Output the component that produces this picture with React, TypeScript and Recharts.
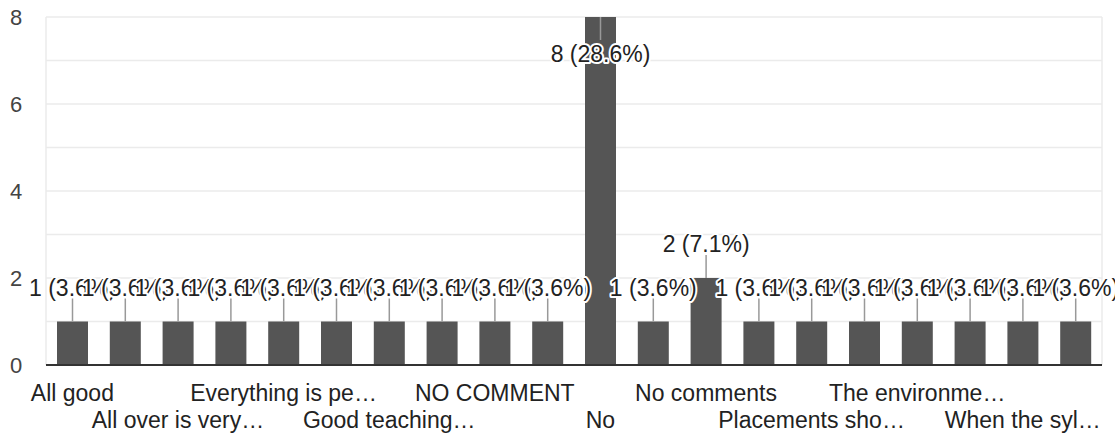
import React from "react";
import {
  BarChart,
  Bar,
  XAxis,
  YAxis,
  CartesianGrid,
  LabelList,
} from "recharts";

// categories (answers), sorted as in the form summary
const CATEGORIES = [
  "All good",
  "All is well",
  "All over is very…",
  "Better infrastructure",
  "Everything is pe…",
  "Good",
  "Good teaching…",
  "Improve labs",
  "NO COMMENT",
  "NOTHING",
  "No",
  "No comment",
  "No comments",
  "Nothing",
  "Placements sho…",
  "Satisfied",
  "The environme…",
  "Very good",
  "When the syl…",
  "Wifi",
];

const COUNTS = [1, 1, 1, 1, 1, 1, 1, 1, 1, 1, 8, 1, 2, 1, 1, 1, 1, 1, 1, 1];

const Y_TICKS = [0, 1, 2, 3, 4, 5, 6, 7, 8];
const Y_LABELS = [0, 2, 4, 6, 8];

const TOTAL = COUNTS.reduce((a, b) => a + b, 0);

const data = CATEGORIES.map((name, i) => ({ name, count: COUNTS[i] }));

const FONT = "'Liberation Sans', Arial, sans-serif";

function YTick({ y, payload }: any) {
  if (!Y_LABELS.includes(payload.value)) return null;
  return (
    <text x={10} y={y} dy={8} fontSize={22} fill="#444" fontFamily={FONT}>
      {payload.value}
    </text>
  );
}

// every second answer is labelled, on two staggered rows
function XTick({ x, y, payload, index }: any) {
  const i = payload?.index ?? index;
  if (i % 2 !== 0) return null;
  const row = (i / 2) % 2;
  return (
    <text
      x={x}
      y={y + (row === 0 ? 36 : 63)}
      textAnchor="middle"
      fontSize={23}
      fill="#222"
      fontFamily={FONT}
    >
      {payload.value}
    </text>
  );
}

// annotation with a small stem, like the forms summary chart
function Annotation({ x, y, width, value }: any) {
  const cx = x + width / 2;
  const text = `${value} (${((value / TOTAL) * 100).toFixed(1)}%)`;
  const above = y - 50 > 17;
  const stemEnd = above ? y - 23 : y + 23;
  const baseY = above ? y - 26 : y + 45;
  return (
    <g>
      <line x1={cx} y1={y} x2={cx} y2={stemEnd} stroke="#999" strokeWidth={1.5} />
      <text
        x={cx}
        y={baseY}
        textAnchor="middle"
        fontSize={23}
        fill="#222"
        stroke="#fff"
        strokeWidth={4}
        strokeLinejoin="round"
        paintOrder="stroke"
        fontFamily={FONT}
      >
        {text}
      </text>
    </g>
  );
}

export default function App() {
  return (
    <div style={{ position: "absolute", left: 0, top: 0, background: "#fff" }}>
      <BarChart
        width={1115}
        height={439}
        data={data}
        margin={{ top: 17, right: 13, bottom: 0, left: 0 }}
        barSize={31}
      >
        <CartesianGrid
          stroke="#ebebeb"
          strokeWidth={1.5}
          verticalCoordinatesGenerator={({ offset }: any) => [
            offset.left,
            offset.left + offset.width,
          ]}
        />
        <YAxis
          width={46}
          domain={[0, 8]}
          ticks={Y_TICKS}
          axisLine={false}
          tickLine={false}
          tick={<YTick />}
          interval={0}
        />
        <XAxis
          dataKey="name"
          height={74}
          interval={0}
          tickLine={false}
          tickSize={0}
          tickMargin={0}
          axisLine={{ stroke: "#333", strokeWidth: 2 }}
          tick={<XTick />}
        />
        <Bar dataKey="count" fill="#555555" isAnimationActive={false}>
          <LabelList dataKey="count" content={<Annotation />} />
        </Bar>
      </BarChart>
    </div>
  );
}
